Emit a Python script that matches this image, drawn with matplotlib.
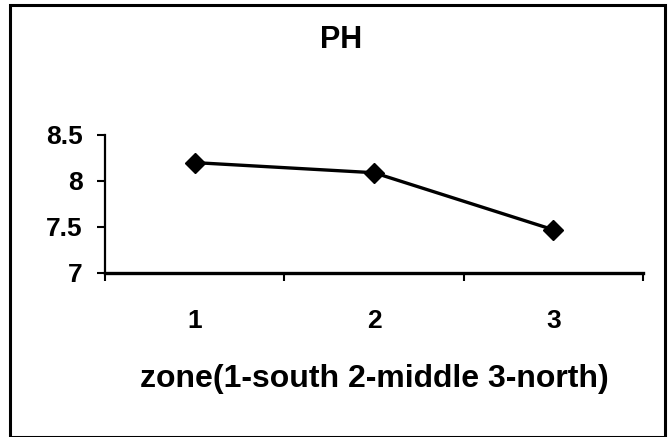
import matplotlib.pyplot as plt
from matplotlib.patches import Rectangle
from matplotlib.ticker import FixedLocator

# data
zones = [1, 2, 3]
zone_labels = ["1", "2", "3"]
ph_values = [8.2, 8.09, 7.47]
y_ticks = [7, 7.5, 8, 8.5]
y_tick_labels = ["7", "7.5", "8", "8.5"]

plt.rcParams["font.family"] = ["Liberation Sans", "DejaVu Sans"]

W, H = 669, 437
fig = plt.figure(figsize=(W / 100, H / 100), dpi=100)
ax = fig.add_axes([105 / W, 1 - 273 / H, (643 - 105) / W, (273 - 135) / H])

ax.plot(zones, ph_values, color="black", linewidth=2.4,
        marker="D", markersize=10.5, markerfacecolor="black",
        markeredgecolor="black")

ax.set_xlim(0.5, 3.5)
ax.set_ylim(7, 8.5)
ax.set_yticks(y_ticks)
ax.set_yticklabels(y_tick_labels, fontsize=19, fontweight="bold")
ax.set_xticks(zones)
ax.set_xticklabels(zone_labels, fontsize=19, fontweight="bold")
ax.tick_params(axis="x", which="major", length=0, pad=26)
ax.xaxis.set_minor_locator(FixedLocator([0.5, 1.5, 2.5, 3.5]))
ax.tick_params(axis="x", which="minor", length=6, width=1.5, direction="out")
ax.tick_params(axis="y", length=6, width=1.5, direction="out", pad=10)

for side in ("top", "right"):
    ax.spines[side].set_visible(False)
ax.spines["left"].set_linewidth(1.6)
ax.spines["bottom"].set_linewidth(2.4)

ax.set_xlabel("zone(1-south 2-middle 3-north)", fontsize=23,
              fontweight="bold", labelpad=22)
fig.text(341 / W, 1 - 40 / H, "PH", fontsize=22, fontweight="bold",
         ha="center", va="center")

# outer frame of the scanned chart
fig.patches.append(Rectangle((10 / W, 0), (665 - 10) / W, 1 - 5 / H,
                             transform=fig.transFigure, fill=False,
                             edgecolor="black", linewidth=2.2))

fig.savefig("out.png", dpi=100)
